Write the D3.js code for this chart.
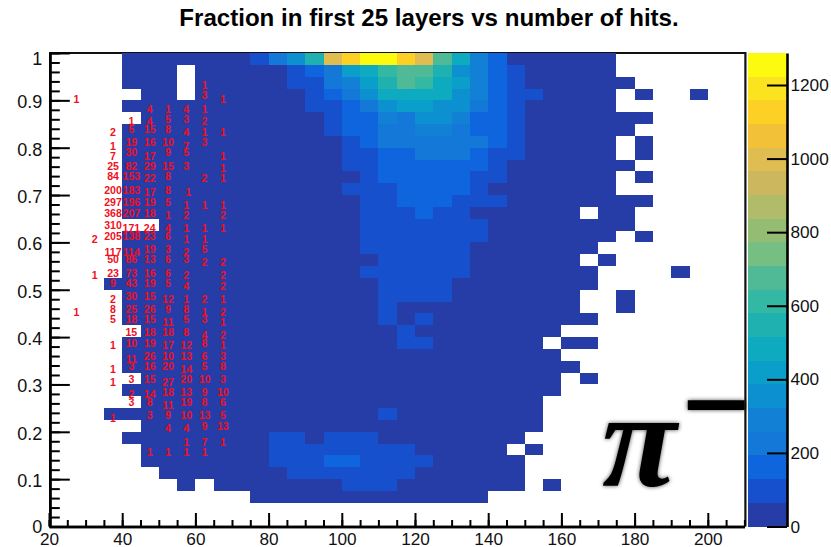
<!DOCTYPE html>
<html><head><meta charset="utf-8">
<style>html,body{margin:0;padding:0;background:#fff}svg{display:block}</style>
<script src="https://cdn.jsdelivr.net/npm/d3@7"></script>
</head><body><div id="c"></div>
<script>
const titleText = "Fraction in first 25 layers vs number of hits.";
const xTicks = [20,40,60,80,100,120,140,160,180,200];
const yTicks = [0,0.1,0.2,0.3,0.4,0.5,0.6,0.7,0.8,0.9,1];
const zTicks = [0,200,400,600,800,1000,1200];
const zMax = 1287;
const palette = ["#263ca6","#1650cd","#0f65dd","#1478d8","#1280d4","#0d90d0","#0a9fcb","#0eaac0","#1fb0b0","#33b8a3","#50ba96","#75bf82","#94bc72","#b0bc6a","#cdb75e","#e0bd50","#f2c138","#fdd025","#fbe31f","#fcfb0f"];
// counts per bin: rows from fraction 1 downwards, columns from 20 upward in steps of 5
const counts = [
[0,0,0,0,30,30,30,30,30,30,30,96,224,352,544,992,1120,1260,1260,1120,992,672,480,288,160,30,30,30,30,30,30,0,0,0,0,0,0,0],
[0,0,0,0,30,30,30,0,30,30,30,30,30,96,160,224,416,480,608,672,672,544,352,288,160,96,30,30,30,30,30,0,0,0,0,0,0,0],
[0,0,0,0,30,30,30,0,30,30,30,30,30,96,96,224,288,416,544,672,608,480,416,288,160,96,30,30,30,30,30,30,0,0,0,0,0,0],
[0,0,0,0,0,30,30,0,30,30,30,30,30,30,96,160,224,352,480,480,480,480,352,288,160,96,96,30,30,30,30,0,30,0,0,30,0,0],
[0,0,0,0,30,30,30,30,30,30,30,30,30,30,96,96,160,224,352,416,416,352,352,224,160,96,30,30,30,30,30,0,0,0,0,0,0,0],
[0,0,0,0,0,30,30,30,30,30,30,30,30,30,30,96,160,160,288,224,352,352,288,160,160,96,30,30,30,30,30,30,30,0,0,0,0,0],
[0,0,0,0,30,30,30,30,30,30,30,30,30,30,30,96,160,160,224,224,288,288,224,160,160,96,30,30,30,30,30,30,0,0,0,0,0,0],
[0,0,0,0,30,30,30,30,30,30,30,30,30,30,30,30,96,160,224,224,224,224,224,224,160,96,30,30,30,30,30,0,30,0,0,0,0,0],
[0,0,0,0,30,30,30,30,30,30,30,30,30,30,30,30,96,96,160,160,224,224,224,160,96,96,30,30,30,30,30,0,30,0,0,0,0,0],
[0,0,0,0,30,30,30,30,30,30,30,30,30,30,30,30,96,96,160,160,160,160,160,160,96,30,30,30,30,30,30,30,0,0,0,0,0,0],
[0,0,0,0,30,30,30,30,30,30,30,30,30,30,30,30,30,96,160,160,160,160,160,96,96,30,30,30,30,30,30,0,30,0,0,0,0,0],
[0,0,0,0,30,30,30,30,30,30,30,30,30,30,30,30,96,96,96,160,160,160,160,96,30,30,30,30,30,30,30,0,0,0,0,0,0,0],
[0,0,0,0,30,30,30,30,30,30,30,30,30,30,30,30,30,96,96,160,160,160,96,96,96,30,30,30,30,30,30,30,30,0,0,0,0,0],
[0,0,0,0,30,30,30,30,30,30,30,30,30,30,30,30,30,96,96,96,160,96,96,30,30,30,30,30,30,0,30,30,0,0,0,0,0,0],
[0,0,0,0,0,0,30,30,30,30,30,30,30,30,30,30,30,96,96,96,96,96,96,96,30,30,30,30,30,30,30,30,0,0,0,0,0,0],
[0,0,0,0,30,30,30,30,30,30,30,30,30,30,30,30,30,96,96,96,96,96,96,96,30,30,30,30,30,30,30,0,30,0,0,0,0,0],
[0,0,0,0,30,30,30,30,30,30,30,30,30,30,30,30,30,96,96,96,96,96,96,30,30,30,30,30,30,30,0,0,0,0,0,0,0,0],
[0,0,0,0,30,30,30,30,30,30,30,30,30,30,30,30,30,30,96,96,96,96,96,30,30,30,30,30,30,0,30,0,0,0,0,0,0,0],
[0,0,0,0,30,30,30,30,30,30,30,30,30,30,30,30,30,96,96,96,96,96,96,30,30,30,30,30,30,30,0,0,0,0,30,0,0,0],
[0,0,0,30,30,30,30,30,30,30,30,30,30,30,30,30,30,30,96,96,96,96,30,30,30,30,30,30,30,30,0,0,0,0,0,0,0,0],
[0,0,0,0,30,30,30,30,30,30,30,30,30,30,30,30,30,30,96,96,96,96,30,30,30,30,30,30,30,0,0,30,0,0,0,0,0,0],
[0,0,0,0,30,30,30,30,30,30,30,30,30,30,30,30,30,30,96,30,30,30,30,30,30,30,30,30,30,0,0,30,0,0,0,0,0,0],
[0,0,0,0,30,30,30,30,30,30,30,30,30,30,30,30,30,30,96,30,96,30,30,30,30,30,30,30,30,30,0,0,0,0,0,0,0,0],
[0,0,0,0,0,30,30,30,30,30,30,30,30,30,30,30,30,30,30,96,30,30,30,30,30,30,30,30,0,0,0,0,0,0,0,0,0,0],
[0,0,0,0,30,30,30,30,30,30,30,30,30,30,30,30,30,30,30,96,96,30,30,30,30,30,30,0,30,30,0,0,0,0,0,0,0,0],
[0,0,0,0,30,30,30,30,30,30,30,30,30,30,30,30,30,30,30,30,30,30,30,30,30,30,30,30,0,0,0,0,0,0,0,0,0,0],
[0,0,0,0,30,30,30,30,30,30,30,30,30,30,30,30,30,30,30,30,30,30,30,30,30,30,30,30,30,0,0,0,0,0,0,0,0,0],
[0,0,0,0,0,30,30,30,30,30,30,30,30,30,30,30,30,30,30,30,30,30,30,30,30,30,30,30,0,30,0,0,0,0,0,0,0,0],
[0,0,0,0,30,30,30,30,30,30,30,30,30,30,30,30,30,30,30,30,30,30,30,30,30,30,30,30,0,0,0,0,0,0,0,0,0,0],
[0,0,0,0,0,30,30,30,30,30,30,30,30,30,30,30,30,30,30,30,30,30,30,30,30,30,30,0,0,0,0,0,0,0,0,0,0,0],
[0,0,0,30,30,30,30,30,30,30,30,30,30,30,30,30,30,30,96,30,30,30,30,30,30,30,30,0,0,0,0,0,0,0,0,0,0,0],
[0,0,0,0,0,30,30,30,30,30,30,30,30,30,30,30,30,30,30,30,30,30,30,30,30,30,30,0,0,0,0,0,0,0,0,0,0,0],
[0,0,0,0,30,30,30,30,30,30,30,30,96,96,30,96,96,96,30,30,30,30,30,30,30,30,0,0,0,0,0,0,0,0,0,0,0,0],
[0,0,0,0,0,30,30,30,30,30,30,30,96,96,96,96,96,96,96,96,30,30,30,30,30,0,30,0,0,0,0,0,0,0,0,0,0,0],
[0,0,0,0,0,30,30,30,30,30,30,30,96,96,96,160,160,96,96,96,96,30,30,30,30,30,0,0,0,0,0,0,0,0,0,0,0,0],
[0,0,0,0,0,0,30,30,30,30,30,30,30,96,96,96,96,96,96,96,30,30,30,30,30,30,0,0,0,0,0,0,0,0,0,0,0,0],
[0,0,0,0,0,0,0,30,0,30,30,30,30,30,30,30,96,96,96,30,30,30,30,30,30,30,0,30,0,0,0,0,0,0,0,0,0,0],
[0,0,0,0,0,0,0,0,0,0,0,30,30,30,30,30,30,30,30,30,30,30,30,30,0,0,0,0,0,0,0,0,0,0,0,0,0,0],
[0,0,0,0,0,0,0,0,0,0,0,0,0,0,0,0,0,0,0,0,0,0,0,0,0,0,0,0,0,0,0,0,0,0,0,0,0,0],
[0,0,0,0,0,0,0,0,0,0,0,0,0,0,0,0,0,0,0,0,0,0,0,0,0,0,0,0,0,0,0,0,0,0,0,0,0,0]
];
// red numbers: [hits, fraction, count]
const hitLabels = [
[62.5,.932,1],[62.5,.910,3],[67.5,.903,1],[27.5,.903,1],
[47.5,.882,4],[52.5,.882,1],[57.5,.882,4],[62.5,.882,1],
[42.5,.856,1],[47.5,.856,4],[52.5,.860,5],[57.5,.860,3],[62.5,.856,2],
[37.5,.832,2],[42.5,.839,5],[47.5,.839,15],[52.5,.839,8],[57.5,.832,4],[62.5,.832,1],[67.5,.832,1],
[37.5,.804,1],[42.5,.811,19],[47.5,.811,16],[52.5,.811,10],[57.5,.804,7],[62.5,.811,3],
[37.5,.783,7],[42.5,.790,30],[47.5,.783,17],[52.5,.790,9],[57.5,.790,5],[67.5,.783,1],
[37.5,.762,25],[42.5,.762,82],[47.5,.762,29],[52.5,.762,15],[57.5,.762,3],[67.5,.756,1],
[37.5,.739,84],[42.5,.739,153],[47.5,.735,22],[52.5,.739,8],[62.5,.735,2],[67.5,.735,1],
[37.5,.711,200],[42.5,.711,183],[47.5,.707,17],[52.5,.711,8],[58,.707,1],
[37.5,.684,297],[42.5,.684,196],[47.5,.684,19],[52.5,.684,5],[57.5,.679,1],[62.5,.679,1],[67.5,.679,1],
[37.5,.662,368],[42.5,.662,207],[47.5,.662,18],[52.5,.657,1],[57.5,.657,2],[67.5,.657,2],
[37.5,.636,310],[42.5,.629,171],[47.5,.629,24],[52.5,.629,4],[57.5,.629,1],[62.5,.629,1],[67.5,.629,1],
[32.5,.607,2],[37.5,.614,205],[42.5,.614,138],[47.5,.614,23],[52.5,.614,6],[57.5,.607,1],[62.5,.607,1],
[37.5,.580,117],[42.5,.580,114],[47.5,.586,19],[52.5,.586,3],[57.5,.580,2],[62.5,.586,5],
[37.5,.564,50],[42.5,.564,86],[47.5,.564,13],[52.5,.564,6],[57.5,.564,3],[62.5,.559,2],[67.5,.559,2],
[32.5,.531,1],[37.5,.535,23],[42.5,.535,73],[47.5,.535,16],[52.5,.535,6],[57.5,.531,2],[67.5,.531,2],
[37.5,.514,9],[42.5,.514,43],[47.5,.514,19],[52.5,.514,5],[57.5,.508,4],[67.5,.508,2],
[37.5,.480,2],[42.5,.487,30],[47.5,.487,15],[52.5,.480,12],[57.5,.480,1],[62.5,.480,2],[67.5,.480,1],
[27.5,.453,1],[37.5,.459,8],[42.5,.459,25],[47.5,.459,26],[52.5,.459,9],[57.5,.459,8],[62.5,.453,1],[67.5,.453,2],
[37.5,.438,5],[42.5,.438,18],[47.5,.438,15],[52.5,.432,11],[57.5,.438,5],[62.5,.438,3],[67.5,.432,1],
[42.5,.410,15],[47.5,.410,18],[52.5,.410,18],[57.5,.410,8],[62.5,.404,4],[67.5,.404,2],
[37.5,.383,1],[42.5,.387,10],[47.5,.387,19],[52.5,.383,17],[57.5,.383,12],[62.5,.387,8],[67.5,.383,1],
[42.5,.354,11],[47.5,.360,26],[52.5,.360,10],[57.5,.360,13],[62.5,.360,6],[67.5,.360,3],
[37.5,.332,1],[42.5,.338,3],[47.5,.338,16],[52.5,.338,20],[57.5,.332,14],[62.5,.338,5],[67.5,.338,8],
[37.5,.304,1],[42.5,.311,3],[47.5,.311,15],[52.5,.304,27],[57.5,.311,20],[62.5,.311,10],[67.5,.311,3],
[42.5,.279,2],[47.5,.279,14],[52.5,.283,18],[57.5,.283,13],[62.5,.283,9],[67.5,.283,10],
[42.5,.262,3],[47.5,.262,8],[52.5,.256,11],[57.5,.262,19],[62.5,.262,8],[67.5,.262,6],
[37.5,.228,1],[47.5,.235,3],[52.5,.235,9],[57.5,.235,10],[62.5,.235,13],[67.5,.235,5],
[52.5,.207,4],[57.5,.207,4],[62.5,.211,9],[67.5,.211,13],
[57.5,.179,1],[62.5,.179,7],[67.5,.179,1],
[47.5,.156,1],[52.5,.156,1],[57.5,.156,1],[62.5,.156,1]
];
const particle = "π";
const charge = "−";

const W = 831, H = 547;
const svg = d3.select("#c").append("svg").attr("width",W).attr("height",H).style("font-family","'Liberation Sans',Arial,sans-serif");
const x = d3.scaleLinear().domain([20,210]).range([49,744.4]);
const y = d3.scaleLinear().domain([0,1]).range([526.5,53]);
const z = d3.scaleLinear().domain([0,zMax]).range([526.5,53]);
const color = d3.scaleQuantize().domain([0,zMax]).range(palette);
const binX = 5, binY = 0.025;

const defs = svg.append("defs");
const f = defs.append("filter").attr("id","soft").attr("x","-20%").attr("y","-30%").attr("width","140%").attr("height","160%");
f.append("feDropShadow").attr("dx",0).attr("dy",0).attr("stdDeviation",2).attr("flood-color","#000").attr("flood-opacity",0.7);

svg.append("text").attr("x",429).attr("y",26).attr("text-anchor","middle")
  .attr("font-size",24.1).attr("font-weight","bold").attr("fill","#000").text(titleText);

// frame
svg.append("path").attr("d",`M${x(20)},${y(1)}H${x(210)+1}V${y(0)}`).attr("fill","none").attr("stroke","#111").attr("stroke-width",2.2);

// cells
const cells = [];
counts.forEach((row,r)=>row.forEach((v,c)=>{ if(v>0) cells.push({hx:20+c*binX, fy:1-r*binY, v}); }));
svg.append("g").attr("shape-rendering","crispEdges").selectAll("rect").data(cells).join("rect")
  .attr("x",d=>x(d.hx)).attr("y",d=>y(d.fy))
  .attr("width",d=>x(d.hx+binX)-x(d.hx)).attr("height",d=>y(d.fy-binY)-y(d.fy))
  .attr("fill",d=>color(d.v));

// red numbers
svg.append("g").selectAll("text").data(hitLabels).join("text")
  .attr("x",d=>x(d[0])).attr("y",d=>y(d[1])).attr("dy","0.36em").attr("text-anchor","middle")
  .attr("font-size",10.6).attr("font-weight","bold").attr("fill","#f0101e").text(d=>d[2]);

// axes
function styleAxis(g){ g.selectAll("path.domain").attr("stroke","#000").attr("stroke-width",2.6);
  g.selectAll("line").attr("stroke","#000").attr("stroke-width",2);
  g.selectAll("text").attr("font-size",17.2).attr("fill","#111").attr("font-family","'Liberation Sans',Arial,sans-serif"); }
const xMinor = d3.range(20,211,5);
const yMinor = d3.range(0,1.001,0.02);
svg.append("g").attr("transform",`translate(0,${y(0)})`)
  .call(d3.axisBottom(x).tickValues(xMinor).tickSize(-6.5).tickFormat("").tickSizeOuter(0)).call(styleAxis);
svg.append("g").attr("transform",`translate(0,${y(0)})`)
  .call(d3.axisBottom(x).tickValues(xTicks).tickSize(-13.5).tickFormat(d3.format("d")).tickSizeOuter(0)).call(styleAxis)
  .call(g=>g.selectAll("text").attr("dy","0").attr("y",18));
svg.append("g").attr("transform",`translate(${x(20)+0.8},0)`)
  .call(d3.axisLeft(y).tickValues(yMinor).tickSize(-10).tickFormat("").tickSizeOuter(0)).call(styleAxis);
svg.append("g").attr("transform",`translate(${x(20)+0.8},0)`)
  .call(d3.axisLeft(y).tickValues(yTicks).tickSize(-20).tickFormat(d3.format("~g")).tickSizeOuter(0)).call(styleAxis)
  .call(g=>g.selectAll("text").attr("font-size",18).attr("x",-7.5).attr("dy",d=>d===1?"0.62em":d===0?"0.36em":"0.41em"));

// colour bar
const barL = 747.7, barR = 787;
svg.append("g").attr("shape-rendering","crispEdges").selectAll("rect").data(palette).join("rect")
  .attr("x",barL).attr("width",barR-barL)
  .attr("y",d=>z(color.invertExtent(d)[1])).attr("height",d=>z(color.invertExtent(d)[0])-z(color.invertExtent(d)[1]))
  .attr("fill",d=>d);
svg.append("g").attr("transform",`translate(${barR},0)`)
  .call(d3.axisRight(z).tickValues(zTicks).tickSize(-20).tickFormat(d3.format("d")).tickSizeOuter(0)).call(styleAxis)
  .call(g=>g.selectAll("text").attr("x",3.5));

// particle
svg.append("text").attr("transform","translate(602,486) scale(1.01,1)").attr("font-family","'Liberation Serif',serif").attr("font-style","italic").attr("font-weight","bold")
  .attr("font-size",135).attr("fill","#000").attr("filter","url(#soft)").text(particle);
svg.append("text").attr("transform","translate(683,435) scale(1.26,1)").attr("font-family","'Liberation Sans',sans-serif").attr("font-weight","bold")
  .attr("font-size",90).attr("fill","#000").attr("filter","url(#soft)").text(charge);
</script></body></html>
